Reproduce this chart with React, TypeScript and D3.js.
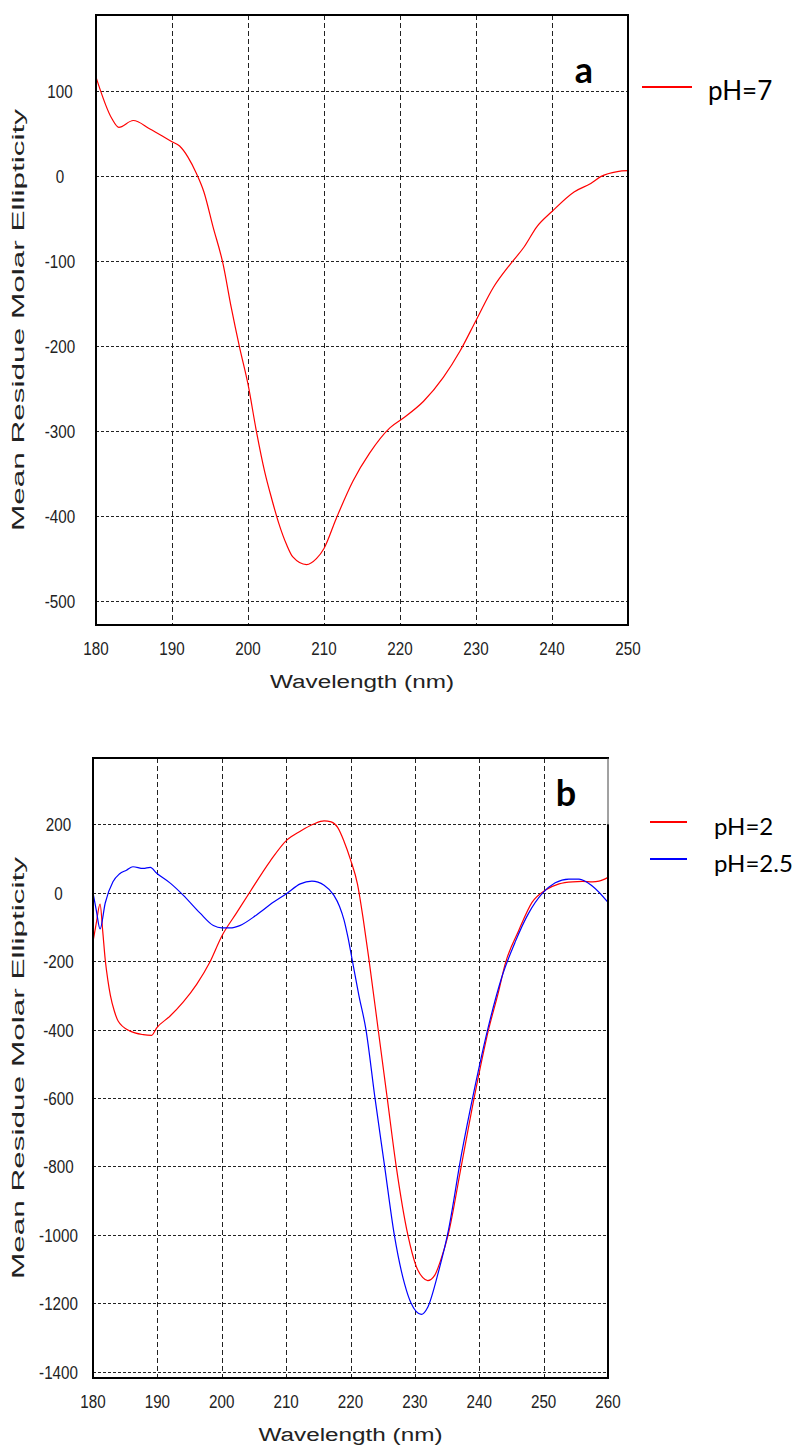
import React from "react";
import * as d3 from "d3";

// ---------- Data ----------
// Panel a (pH 7)
const wlA = [180, 182.1, 183, 184.9, 187.1, 190, 191, 192.1, 193.2, 194.2, 195.4, 196.7, 197.8, 198.9, 200, 201.1, 202.2, 203.1, 204, 205.1, 205.9, 207.7, 209, 210, 211.6, 213.8, 216, 218.7, 220.4, 223.1, 225.7, 227.9, 230, 232.3, 234.5, 236.3, 238, 240, 242.9, 245.1, 246.4, 248.6, 250];
const ellA_pH7 = [116, 67, 57, 65, 55, 40, 35, 22, 3, -19, -60, -103, -155, -202, -245, -300, -348, -379, -407, -434, -448, -457, -450, -438, -403, -359, -326, -296, -285, -265, -237, -206, -170, -131, -104, -84, -60, -42, -19, -9, -1, 5, 6];

// Panel b (pH 2)
const wlB_pH2 = [180, 180.5, 181.1, 181.5, 181.9, 182.3, 182.7, 183.3, 183.9, 185.7, 187.8, 189.1, 189.9, 191.9, 194, 196.1, 198.1, 200, 202.3, 204.4, 207.5, 210.1, 212.2, 214.3, 215.9, 217, 218, 219, 220, 221.1, 222, 222.9, 224.3, 225.7, 227.1, 228.9, 230.2, 231.2, 232, 233.1, 234, 235.2, 237.2, 239.3, 241.4, 243, 244, 246.1, 248.2, 250.3, 252.4, 254.5, 256, 257.6, 258.6, 260];
const ellB_pH2 = [-143, -90, -33, -110, -196, -255, -300, -345, -375, -404, -415, -417, -395, -362, -320, -268, -205, -127, -59, 3, 92, 154, 180, 201, 210, 207, 191, 150, 97, 24, -80, -200, -400, -600, -800, -1000, -1092, -1125, -1134, -1118, -1075, -998, -800, -591, -404, -289, -210, -112, -28, 8, 26, 32, 33, 32, 34, 45];

// Panel b (pH 2.5)
const wlB_pH25 = [180, 180.5, 181.1, 181.9, 183.1, 184.1, 185.2, 186.2, 187.8, 188.9, 189.9, 192, 194, 196.6, 198.7, 200, 201.3, 202.8, 205.4, 208, 210.1, 212.2, 214, 215.9, 217.4, 218.3, 219, 219.6, 220.3, 221.3, 222.4, 223.8, 225.3, 226.8, 228.4, 229.4, 231, 232, 233.6, 235.2, 237.2, 239.3, 241.4, 243.5, 245.6, 247.7, 249.8, 251.8, 253.9, 255.5, 257.6, 260];
const ellB_pH25 = [0, -50, -106, -30, 32, 55, 66, 76, 71, 74, 57, 28, -7, -59, -96, -103, -103, -96, -65, -28, -2, 26, 34, 22, -7, -40, -80, -130, -200, -300, -400, -600, -800, -1000, -1144, -1200, -1233, -1212, -1113, -988, -769, -570, -393, -247, -143, -59, -2, 29, 40, 40, 19, -28];

const xTicksA = [180, 190, 200, 210, 220, 230, 240, 250];
const yTicksA = [100, 0, -100, -200, -300, -400, -500];
const xTicksB = [180, 190, 200, 210, 220, 230, 240, 250, 260];
const yTicksB = [200, 0, -200, -400, -600, -800, -1000, -1200, -1400];

const legendA = ["pH=7"];
const legendB = ["pH=2", "pH=2.5"];

const xTitle = "Wavelength (nm)";
const yTitle = "Mean Residue Molar Ellipticity";

// ---------- Styling ----------
const RED = "#ff0000";
const BLUE = "#0000ff";
const TICK_FONT = "'Liberation Sans Narrow', 'Arial Narrow', 'Liberation Sans', sans-serif";
const TITLE_FONT = "'Liberation Sans', Arial, sans-serif";
const LEG_FONT = "Lato, 'Open Sans', sans-serif";

type Series = { xs: number[]; ys: number[]; color: string };

type PanelProps = {
  left: number; right: number; top: number; bottom: number;
  xDomain: [number, number]; yDomain: [number, number];
  xTicks: number[]; yTicks: number[];
  series: Series[];
  yLabelCx: number;
  letter: string; letterX: number; letterY: number;
  legend: string[]; legendColors: string[];
  legLineX1: number; legLineX2: number; legTextX: number; legY0: number; legDy: number; legFont: number;
  legTextDy: number;
  partialRight?: boolean;
};

const px = (v: number) => Math.round(v) + 0.5;

function Panel(p: PanelProps) {
  const x = d3.scaleLinear().domain(p.xDomain).range([p.left, p.right]);
  const y = d3.scaleLinear().domain(p.yDomain).range([p.bottom, p.top]);
  const line = d3.line<[number, number]>()
    .x((d) => x(d[0]))
    .y((d) => y(d[1]))
    .curve(d3.curveMonotoneX);
  const cx = (p.left + p.right) / 2;
  const cy = (p.top + p.bottom) / 2;
  const yTop200 = y(p.yTicks[0]);
  return (
    <g>
      {/* grid */}
      {p.xTicks.filter((t) => t > p.xDomain[0] && t < p.xDomain[1]).map((t) => (
        <line key={"vx" + t} x1={px(x(t))} x2={px(x(t))} y1={p.top} y2={p.bottom}
          stroke="#222" strokeWidth={1} strokeDasharray="5,3" shapeRendering="crispEdges" />
      ))}
      {p.yTicks.map((t) => (
        <line key={"hy" + t} x1={p.left} x2={p.right} y1={px(y(t))} y2={px(y(t))}
          stroke="#222" strokeWidth={1} strokeDasharray="3,2" shapeRendering="crispEdges" />
      ))}
      {/* curves */}
      {p.series.map((s, i) => (
        <path key={"s" + i} d={line(s.xs.map((v, j) => [v, s.ys[j]] as [number, number])) || ""}
          fill="none" stroke={s.color} strokeWidth={1.2} strokeLinejoin="round" />
      ))}
      {/* frame */}
      <line x1={p.left} x2={p.left} y1={p.top - 1} y2={p.bottom + 1} stroke="#000" strokeWidth={2} />
      <line x1={p.left - 1} x2={p.right + 1} y1={p.top} y2={p.top} stroke="#000" strokeWidth={2} />
      <line x1={p.left - 1} x2={p.right + 1} y1={p.bottom} y2={p.bottom} stroke="#000" strokeWidth={2} />
      {p.partialRight ? (
        <g>
          <line x1={p.right} x2={p.right} y1={p.top} y2={yTop200} stroke="#444" strokeWidth={1} />
          <line x1={p.right} x2={p.right} y1={yTop200} y2={p.bottom + 1} stroke="#000" strokeWidth={2} />
        </g>
      ) : (
        <line x1={p.right} x2={p.right} y1={p.top - 1} y2={p.bottom + 1} stroke="#000" strokeWidth={2} />
      )}
      {/* tick labels */}
      {p.yTicks.map((t) => (
        <text key={"yl" + t} transform={`translate(${p.yLabelCx},${y(t) + 7}) scale(0.8,1)`}
          textAnchor="middle" fontFamily={TICK_FONT} fontSize={19} fill="#222">{t}</text>
      ))}
      {p.xTicks.map((t) => (
        <text key={"xl" + t} transform={`translate(${x(t)},${p.bottom + 30}) scale(0.8,1)`}
          textAnchor="middle" fontFamily={TICK_FONT} fontSize={19} fill="#222">{t}</text>
      ))}
      {/* axis titles */}
      <text x={cx} y={p.bottom + 63} textAnchor="middle" fontFamily={TITLE_FONT} fontSize={18}
        textLength={184} lengthAdjust="spacingAndGlyphs" fill="#222">{xTitle}</text>
      <text transform={`translate(24,${cy}) rotate(-90)`} x={0} y={0} textAnchor="middle"
        fontFamily={TITLE_FONT} fontSize={16} textLength={422} lengthAdjust="spacingAndGlyphs" fill="#222">{yTitle}</text>
      {/* panel letter */}
      <text x={p.letterX} y={p.letterY} textAnchor="middle" fontFamily={LEG_FONT} fontWeight={700}
        fontSize={36} fill="#000">{p.letter}</text>
      {/* legend */}
      {p.legend.map((name, i) => (
        <g key={"lg" + i}>
          <line x1={p.legLineX1} x2={p.legLineX2} y1={p.legY0 + i * p.legDy} y2={p.legY0 + i * p.legDy}
            stroke={p.legendColors[i]} strokeWidth={2} />
          <text x={p.legTextX} y={p.legY0 + i * p.legDy + p.legTextDy} fontFamily={LEG_FONT}
            fontSize={p.legFont} fill="#000">{name}</text>
        </g>
      ))}
    </g>
  );
}

export default function App() {
  return (
    <svg width={800} height={1446} style={{ position: "absolute", left: 0, top: 0, background: "#fff" }}>
      <rect x={0} y={0} width={800} height={1446} fill="#fff" />
      <Panel
        left={96} right={628} top={15} bottom={625}
        xDomain={[180, 250]} yDomain={[-528, 189]}
        xTicks={xTicksA} yTicks={yTicksA}
        series={[{ xs: wlA, ys: ellA_pH7, color: RED }]}
        yLabelCx={60}
        letter="a" letterX={584} letterY={83}
        legend={legendA} legendColors={[RED]}
        legLineX1={642} legLineX2={692} legTextX={708} legY0={87} legDy={36} legFont={26} legTextDy={13}
      />
      <Panel
        left={93} right={608} top={758} bottom={1378}
        xDomain={[180, 260]} yDomain={[-1419, 394]}
        xTicks={xTicksB} yTicks={yTicksB}
        series={[
          { xs: wlB_pH2, ys: ellB_pH2, color: RED },
          { xs: wlB_pH25, ys: ellB_pH25, color: BLUE },
        ]}
        yLabelCx={58.5}
        letter="b" letterX={566} letterY={806}
        legend={legendB} legendColors={[RED, BLUE]}
        legLineX1={650} legLineX2={687} legTextX={714} legY0={822} legDy={37} legFont={24} legTextDy={13}
        partialRight
      />
    </svg>
  );
}
